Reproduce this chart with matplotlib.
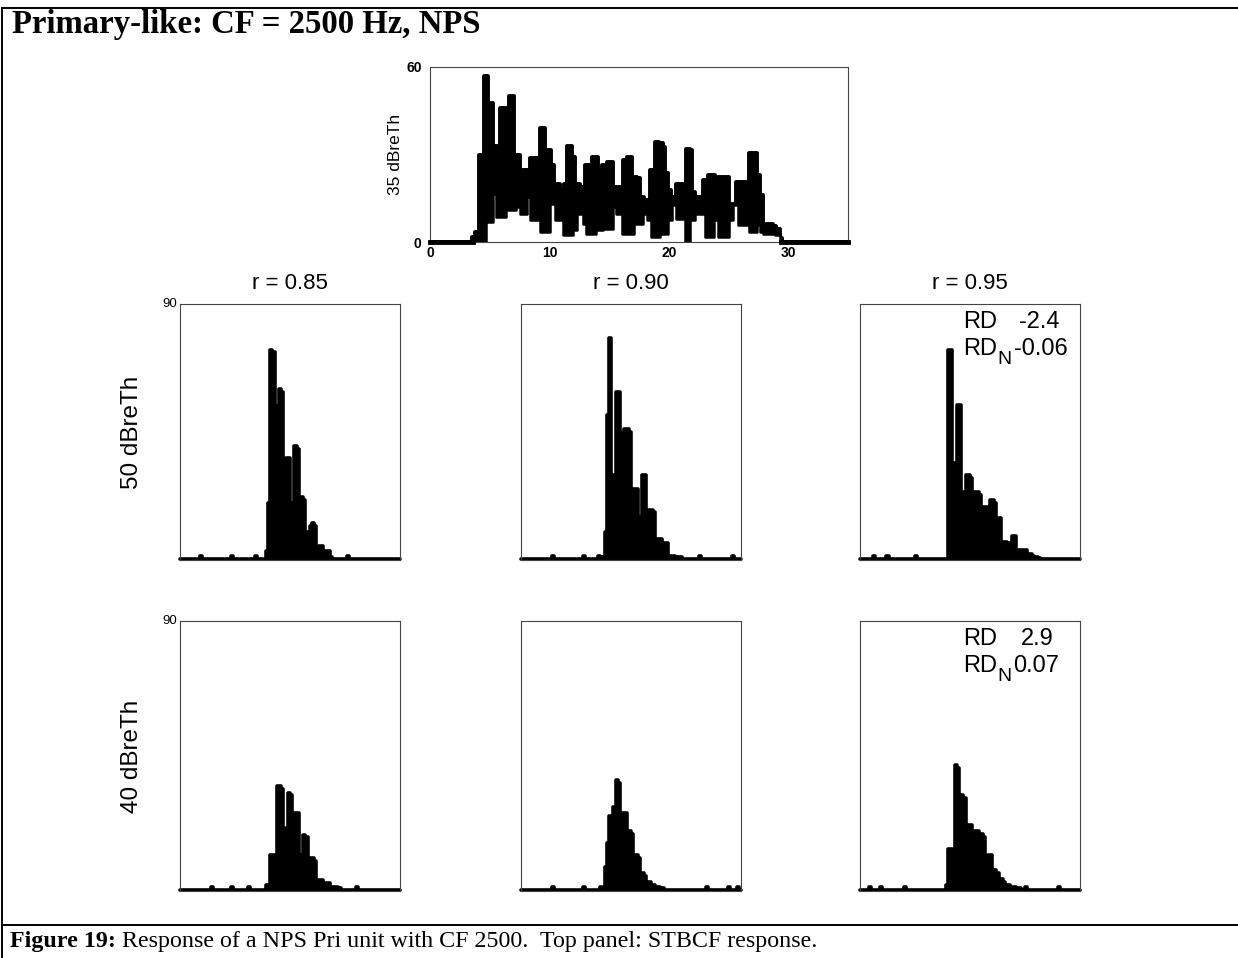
import numpy as np
import matplotlib
matplotlib.use('Agg')
import matplotlib.pyplot as plt
from matplotlib.lines import Line2D

# ---------------- data ----------------
title_text = "Primary-like: CF = 2500 Hz, NPS"
caption_bold = "Figure 19:"
caption_rest = "Response of a NPS Pri unit with CF 2500.  Top panel: STBCF response."
col_titles = ["r = 0.85", "r = 0.90", "r = 0.95"]
row_labels = ["50 dBreTh", "40 dBreTh"]
top_label = "35 dBreTh"
rd_values = [("-2.4", "-0.06"), ("2.9", "0.07")]

# top panel (STBCF): step envelopes (time, value)
top_upper_t = [0, 3.5, 3.8, 4.1, 4.5, 4.85, 5.3, 5.85, 6.6, 7.05, 7.55, 7.95, 8.1, 8.4,
               9.25, 9.65, 10.1, 10.35, 10.9, 11.2, 11.45, 11.9, 12.15, 12.6, 13.0,
               13.6, 14.1, 14.4, 14.8, 15.3, 16.2, 16.5, 16.9, 17.3, 17.55, 17.9, 18.4,
               18.8, 19.15, 19.5, 19.7, 19.9, 20.2, 20.6, 21.4, 21.75, 21.95, 22.2, 22.9,
               23.3, 23.85, 24.1, 25.05, 25.6, 26.7, 27.35, 27.6, 27.9, 28.7, 29.0, 29.3,
               29.5, 35]
top_upper_v = [0, 1.7, 3.4, 30, 57, 47.6, 33, 46, 50, 30, 24.7, 19.5, 24.7, 28.7,
               39, 31.5, 26.4, 20, 17.8, 20, 33, 29, 20, 19, 26.4,
               29, 24.7, 26.4, 27.5, 19, 28, 29, 22.4, 21.8, 15.5, 14.3, 24.7,
               34.4, 33.8, 32.7, 23.5, 17.8, 15.5, 20, 32, 31.5, 17.2, 15.5, 21.2,
               23, 19, 22.4, 13.2, 20.6, 30.4, 23, 16, 6.3, 5.5, 4.6, 1.5,
               0, 0]
top_lower_t = [0, 4.7, 5.3, 5.55, 6.4, 7.2, 7.55, 8.1, 8.4, 9.2, 10.05, 10.5, 11.1,
               12.0, 12.3, 12.8, 13.1, 13.9, 14.5, 15.3, 15.6, 16.1, 17.1, 17.8, 18.2,
               18.5, 19.3, 19.9, 20.3, 20.6, 21.35, 21.8, 22.2, 23.0, 23.8, 24.1, 25.0,
               25.4, 25.8, 26.7, 27.4, 27.65, 27.9, 28.9, 29.3, 35]
top_lower_v = [0, 6.9, 16.6, 8.6, 11, 12, 9.7, 15.5, 7.5, 3.4, 13.2, 7.5, 2.3,
               4, 9.7, 6.3, 2.9, 4, 4.6, 12, 9.7, 2.9, 6.3, 9.7, 7.5,
               1.7, 2.9, 7.5, 12.6, 8, 0, 7.5, 9.7, 1.7, 7.5, 1.7, 7.5,
               12.6, 5.7, 3.4, 5.7, 3.4, 2.9, 2.3, 0, 0]

# histogram panels: first bin index and consecutive bin heights (spikes/s), baseline bumps
hist_start = [[38, 37, 39],
              [39, 37, 39]]
hist_heights = [
    [
        [0.5, 3, 20, 74, 73, 22, 54, 60, 59, 20, 36, 36, 18, 20, 40, 39, 14, 22, 21, 10,
         8, 12, 13, 12, 3, 5, 5, 2, 3, 3, 1],
        [1, 10, 51, 78, 30, 30, 59, 59, 44.5, 22, 46, 46, 45, 15, 25, 25, 15, 12, 30, 30,
         13, 17.7, 17.7, 17, 5, 7.4, 7.4, 3, 6, 6, 1.5, 1.5, 1.5, 1.2, 1.2, 1],
        [0.5, 74, 74, 34, 34, 54.5, 54.5, 24, 24, 30, 30, 29, 12, 24, 24, 23, 12, 18.5,
         18.5, 10, 21, 21, 20, 8, 14.7, 6, 6.3, 6.3, 6, 4, 8.4, 8.4, 3, 3.5, 3.5, 3, 3.5,
         2, 2, 1.5, 1, 1, 0.8],
    ],
    [
        [2, 2, 12, 12, 5, 35, 35, 34, 20, 21, 32.7, 32, 21, 26, 26, 12, 10, 18.7, 18, 8,
         11, 11, 10, 2, 3.7, 3.7, 2, 2.7, 2.7, 1.3, 1.3, 1.3, 1.3, 1],
        [1, 8, 16, 25, 15, 28, 37, 36, 18, 26, 26, 14, 20, 19, 8, 12, 11, 5, 6, 5, 3, 3,
         2, 2, 1.5, 1.5, 1, 1],
        [2, 14, 14, 8, 42, 41, 20, 32, 31, 15, 22, 22, 12, 20, 20, 10, 19, 18, 8, 12, 12,
         5, 7, 6, 3, 4, 3, 2, 2, 1.5, 1.5, 1.2, 1, 1],
    ],
]
hist_bumps = [[[9, 23, 34, 76], [14, 28, 35, 81, 96], [6, 12, 25]],
              [[14, 23, 31, 80], [14, 28, 36, 84, 94, 98], [4, 9, 20, 75, 90]]]

# ---------------- layout ----------------
W, H = 1238, 958
fig = plt.figure(figsize=(W / 100, H / 100), dpi=100)
plt.rcParams['font.family'] = ['Liberation Sans', 'DejaVu Sans']
renderer = fig.canvas.get_renderer()


def px_axes(l, t, r, b):
    return fig.add_axes([l / W, 1 - b / H, (r - l) / W, (b - t) / H])


def fline(x0, y0, x1, y1, lw=1.4):
    fig.add_artist(Line2D([x0 / W, x1 / W], [1 - y0 / H, 1 - y1 / H], color='black',
                          lw=lw, transform=fig.transFigure))


def ptext(x, y, s, **kw):
    """text at figure pixel position (y measured from top)"""
    return fig.text(x / W, 1 - y / H, s, **kw)


# page frame
fline(2, 8, 1238, 8)
fline(2, 8, 2, 958)
fline(2, 925, 1238, 925)

ptext(12, 33, title_text, family='Liberation Serif', fontweight='bold',
      fontsize=23.6, ha='left', va='baseline')

# caption
t1 = ptext(10, 947, caption_bold, family='Liberation Serif', fontweight='bold',
           fontsize=17.3, ha='left', va='baseline')
bb = t1.get_window_extent(renderer)
ptext(bb.x1 + 6, 947, caption_rest, family='Liberation Serif', fontsize=17.3,
      ha='left', va='baseline')

# top panel
ax = px_axes(430, 67, 848, 242)
ax.fill_between(top_upper_t, 0, top_upper_v, step='post', color='black', lw=0)
ax.step(top_upper_t, top_upper_v, where='post', color='black', lw=2.8,
        solid_joinstyle='round', solid_capstyle='round')
ax.fill_between(top_lower_t, 0, top_lower_v, step='post', color='white', lw=0, zorder=2)
ax.step(top_lower_t, top_lower_v, where='post', color='black', lw=1.8, zorder=2.1)
ax.plot([0, 3.6], [0, 0], color='black', lw=3.5, clip_on=False, zorder=3)
ax.plot([29.4, 35], [0, 0], color='black', lw=3.5, clip_on=False, zorder=3)
ax.set_xlim(0, 35)
ax.set_ylim(0, 60)
ax.set_xticks([0, 10, 20, 30])
ax.set_yticks([0, 60])
ax.tick_params(axis='x', length=0, labelsize=10, pad=3)
ax.tick_params(axis='y', length=0, labelsize=10, pad=6)
for lab in ax.get_xticklabels() + ax.get_yticklabels():
    lab.set_fontweight('bold')
ax.set_ylabel(top_label, fontsize=12.5, labelpad=2)
for s in ax.spines.values():
    s.set_linewidth(0.8)
    s.set_color('#444444')

col_lefts = [180, 521, 860]
col_width = 220
row_tb = [(304, 560), (621, 891)]
nbins = 100

for r in range(2):
    for c in range(3):
        l = col_lefts[c]
        t, b = row_tb[r]
        ax = px_axes(l, t, l + col_width, b)
        vals = np.full(nbins, 0.3)
        for bp in hist_bumps[r][c]:
            vals[int(bp)] = 1.3
        st = hist_start[r][c]
        hh = hist_heights[r][c]
        vals[st:st + len(hh)] = hh
        edges = np.arange(nbins + 1)
        yy = np.append(vals, vals[-1])
        ax.fill_between(edges, 0, yy, step='post', color='black', lw=0)
        ax.step(edges, yy, where='post', color='black', lw=2.6,
                solid_joinstyle='round', solid_capstyle='round', clip_on=False)
        ax.set_xlim(0, nbins)
        ax.set_ylim(0, 90)
        ax.set_xticks([])
        ax.set_yticks([])
        for s in ax.spines.values():
            s.set_linewidth(0.8)
            s.set_color('#444444')
        if c == 0:
            ax.text(-0.015, 1.0, '90', transform=ax.transAxes, ha='right', va='center',
                    fontsize=9.5)
            ax.text(-0.22, 0.5, row_labels[r], transform=ax.transAxes, rotation=90,
                    ha='center', va='center', fontsize=17.5)
        if r == 0:
            ax.text(0.5, 1.04, col_titles[c], transform=ax.transAxes, ha='center',
                    va='bottom', fontsize=16)
        if c == 2:
            rd, rdn = rd_values[r]
            fs = 17
            y1 = t + 24
            y2 = t + 51
            ptext(963, y1, 'RD', ha='left', va='baseline', fontsize=fs)
            ptext(1021 if not rd.startswith('-') else 1019, y1, rd, ha='left',
                  va='baseline', fontsize=fs)
            trd = ptext(963, y2, 'RD', ha='left', va='baseline', fontsize=fs)
            bbr = trd.get_window_extent(renderer)
            tn = ptext(bbr.x1 + 0.5, y2 + 9, 'N', ha='left', va='baseline',
                       fontsize=14)
            bbn = tn.get_window_extent(renderer)
            ptext(bbn.x1 + 2, y2, rdn, ha='left', va='baseline', fontsize=fs)

fig.savefig('out.png', dpi=100)
